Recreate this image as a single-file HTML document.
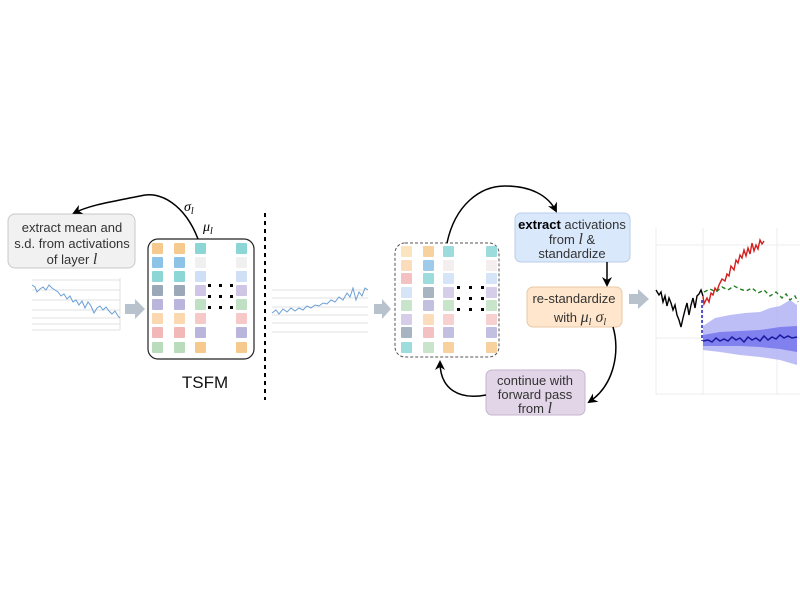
<!DOCTYPE html>
<html><head><meta charset="utf-8"><style>
html,body{margin:0;padding:0;background:#fff;}
svg{display:block;font-family:"Liberation Sans",sans-serif;}
</style></head><body>
<svg width="800" height="600" viewBox="0 0 800 600" xmlns="http://www.w3.org/2000/svg">
<defs>
<marker id="ah" markerWidth="10" markerHeight="10" refX="8" refY="5" orient="auto" markerUnits="userSpaceOnUse"><path d="M0,0 L10,5 L0,10 L3,5 z" fill="#000"/></marker>
</defs>
<rect width="800" height="600" fill="#fff"/>

<rect x="8" y="214" width="127" height="54" rx="7" fill="#f1f1f1" stroke="#c8c8c8"/>
<text x="72" y="232" font-size="13" text-anchor="middle" fill="#333">extract mean and</text>
<text x="72" y="248" font-size="13" text-anchor="middle" fill="#333">s.d. from activations</text>
<text x="72" y="264" font-size="13" text-anchor="middle" fill="#333">of layer <tspan font-family="Liberation Serif" font-style="italic" font-size="16">l</tspan></text>

<g stroke="#e2e2e2" stroke-width="1">
<line x1="32" y1="280" x2="120" y2="280"/><line x1="32" y1="290" x2="120" y2="290"/><line x1="32" y1="300" x2="120" y2="300"/><line x1="32" y1="310" x2="120" y2="310"/><line x1="32" y1="318" x2="120" y2="318"/><line x1="32" y1="324" x2="120" y2="324"/><line x1="32" y1="330" x2="120" y2="330"/>
<line x1="120" y1="278" x2="120" y2="330"/>
</g>
<polyline fill="none" stroke="#6b9fd6" stroke-width="1" points="32,285 35,287 37,292 40,289 43,287 46,290 49,285 52,288 55,290 58,292 61,296 64,294 67,299 70,296 73,302 76,300 79,305 82,301 85,308 88,302 91,306 94,313 97,308 100,306 103,310 106,307 109,311 112,314 115,311 118,316 120,318"/>
<polygon points="125,304 135,304 135,299 145,309 135,319 135,314 125,314" fill="#b8c2cc"/>

<rect x="148" y="239" width="106" height="120" rx="10" fill="#fff" stroke="#222" stroke-width="1.2"/>
<g>
<rect x="152" y="243" width="11" height="11" rx="1" fill="#f6c98e"/>
<rect x="152" y="257" width="11" height="11" rx="1" fill="#8cc3e6"/>
<rect x="152" y="271" width="11" height="11" rx="1" fill="#8dd6d6"/>
<rect x="152" y="285" width="11" height="11" rx="1" fill="#9aa8b8"/>
<rect x="152" y="299" width="11" height="11" rx="1" fill="#b9b5dc"/>
<rect x="152" y="313" width="11" height="11" rx="1" fill="#fbd8b0"/>
<rect x="152" y="327" width="11" height="11" rx="1" fill="#f2b7b7"/>
<rect x="152" y="342" width="11" height="11" rx="1" fill="#b8dcbc"/>
<rect x="174" y="243" width="11" height="11" rx="1" fill="#f6c98e"/>
<rect x="174" y="257" width="11" height="11" rx="1" fill="#8cc3e6"/>
<rect x="174" y="271" width="11" height="11" rx="1" fill="#8dd6d6"/>
<rect x="174" y="285" width="11" height="11" rx="1" fill="#9aa8b8"/>
<rect x="174" y="299" width="11" height="11" rx="1" fill="#b9b5dc"/>
<rect x="174" y="313" width="11" height="11" rx="1" fill="#fbd8b0"/>
<rect x="174" y="327" width="11" height="11" rx="1" fill="#f2b7b7"/>
<rect x="174" y="342" width="11" height="11" rx="1" fill="#b8dcbc"/>
<rect x="195" y="243" width="11" height="11" rx="1" fill="#8dd6d6"/>
<rect x="195" y="257" width="11" height="11" rx="1" fill="#f0f0f0"/>
<rect x="195" y="271" width="11" height="11" rx="1" fill="#cfe0f6"/>
<rect x="195" y="285" width="11" height="11" rx="1" fill="#cfc5e4"/>
<rect x="195" y="299" width="11" height="11" rx="1" fill="#bfe0c2"/>
<rect x="195" y="313" width="11" height="11" rx="1" fill="#f6c8c8"/>
<rect x="195" y="327" width="11" height="11" rx="1" fill="#b9b5dc"/>
<rect x="195" y="342" width="11" height="11" rx="1" fill="#f6c98e"/>
<rect x="236" y="243" width="11" height="11" rx="1" fill="#8dd6d6"/>
<rect x="236" y="257" width="11" height="11" rx="1" fill="#f0f0f0"/>
<rect x="236" y="271" width="11" height="11" rx="1" fill="#cfe0f6"/>
<rect x="236" y="285" width="11" height="11" rx="1" fill="#cfc5e4"/>
<rect x="236" y="299" width="11" height="11" rx="1" fill="#bfe0c2"/>
<rect x="236" y="313" width="11" height="11" rx="1" fill="#f6c8c8"/>
<rect x="236" y="327" width="11" height="11" rx="1" fill="#b9b5dc"/>
<rect x="236" y="342" width="11" height="11" rx="1" fill="#f6c98e"/>
</g>
<g fill="#000">
<rect x="208" y="284" width="3" height="3"/><rect x="219" y="284" width="3" height="3"/><rect x="230" y="284" width="3" height="3"/>
<rect x="208" y="295" width="3" height="3"/><rect x="219" y="295" width="3" height="3"/><rect x="230" y="295" width="3" height="3"/>
<rect x="208" y="306" width="3" height="3"/><rect x="219" y="306" width="3" height="3"/><rect x="230" y="306" width="3" height="3"/>
</g>
<text x="205" y="388" font-size="17" text-anchor="middle" fill="#111">TSFM</text>
<path d="M198,239 C185,205 160,190 140,196 C110,202 90,205 74,213" fill="none" stroke="#000" stroke-width="1.5" marker-end="url(#ah)"/>
<text x="184" y="211" font-size="14" font-family="Liberation Serif" font-style="italic">σ<tspan font-size="10" dy="3">l</tspan></text>
<text x="203" y="231" font-size="14" font-family="Liberation Serif" font-style="italic">μ<tspan font-size="10" dy="3">l</tspan></text>

<line x1="265" y1="213" x2="265" y2="400" stroke="#000" stroke-width="2" stroke-dasharray="4,4"/>

<g stroke="#e2e2e2"><line x1="272" y1="290" x2="368" y2="290"/><line x1="272" y1="298" x2="368" y2="298"/><line x1="272" y1="307" x2="368" y2="307"/><line x1="272" y1="315" x2="368" y2="315"/><line x1="272" y1="323" x2="368" y2="323"/><line x1="272" y1="332" x2="368" y2="332"/></g>
<polyline fill="none" stroke="#6b9fd6" stroke-width="1" points="272,313 276,310 279,314 283,309 287,312 291,308 295,311 299,308 303,310 307,306 311,308 315,305 319,306 323,303 327,304 331,300 335,302 339,297 343,300 347,293 350,297 353,288 356,300 359,292 362,296 365,288 368,290"/>
<polygon points="374,304 382,304 382,299 391,309 382,319 382,314 374,314" fill="#b8c2cc"/>

<rect x="395" y="243" width="104" height="114" rx="10" fill="#fff" stroke="#555" stroke-dasharray="3,2"/>
<g opacity="0.85">
<rect x="401" y="246" width="11" height="11" rx="1" fill="#fbe1b4"/>
<rect x="401" y="260" width="11" height="11" rx="1" fill="#fbd8b0"/>
<rect x="401" y="273" width="11" height="11" rx="1" fill="#f2b7b7"/>
<rect x="401" y="287" width="11" height="11" rx="1" fill="#cfe0f6"/>
<rect x="401" y="300" width="11" height="11" rx="1" fill="#bfe0c2"/>
<rect x="401" y="314" width="11" height="11" rx="1" fill="#cfc5e4"/>
<rect x="401" y="327" width="11" height="11" rx="1" fill="#9aa8b8"/>
<rect x="401" y="342" width="11" height="11" rx="1" fill="#8dd6d6"/>
<rect x="423" y="246" width="11" height="11" rx="1" fill="#f6c98e"/>
<rect x="423" y="260" width="11" height="11" rx="1" fill="#8cc3e6"/>
<rect x="423" y="273" width="11" height="11" rx="1" fill="#8dd6d6"/>
<rect x="423" y="287" width="11" height="11" rx="1" fill="#9aa8b8"/>
<rect x="423" y="300" width="11" height="11" rx="1" fill="#b9b5dc"/>
<rect x="423" y="314" width="11" height="11" rx="1" fill="#fbd8b0"/>
<rect x="423" y="327" width="11" height="11" rx="1" fill="#f2b7b7"/>
<rect x="423" y="342" width="11" height="11" rx="1" fill="#bfe0c2"/>
<rect x="443" y="246" width="11" height="11" rx="1" fill="#8dd6d6"/>
<rect x="443" y="260" width="11" height="11" rx="1" fill="#f3ecec"/>
<rect x="443" y="273" width="11" height="11" rx="1" fill="#cfe0f6"/>
<rect x="443" y="287" width="11" height="11" rx="1" fill="#cfc5e4"/>
<rect x="443" y="300" width="11" height="11" rx="1" fill="#bfe0c2"/>
<rect x="443" y="314" width="11" height="11" rx="1" fill="#f6c8c8"/>
<rect x="443" y="327" width="11" height="11" rx="1" fill="#b9b5dc"/>
<rect x="443" y="342" width="11" height="11" rx="1" fill="#f6c98e"/>
<rect x="486" y="246" width="11" height="11" rx="1" fill="#8dd6d6"/>
<rect x="486" y="260" width="11" height="11" rx="1" fill="#f3ecec"/>
<rect x="486" y="273" width="11" height="11" rx="1" fill="#cfe0f6"/>
<rect x="486" y="287" width="11" height="11" rx="1" fill="#cfc5e4"/>
<rect x="486" y="300" width="11" height="11" rx="1" fill="#bfe0c2"/>
<rect x="486" y="314" width="11" height="11" rx="1" fill="#f6c8c8"/>
<rect x="486" y="327" width="11" height="11" rx="1" fill="#b9b5dc"/>
<rect x="486" y="342" width="11" height="11" rx="1" fill="#f6c98e"/>
</g>
<g fill="#000">
<rect x="457" y="286" width="3" height="3"/><rect x="469" y="286" width="3" height="3"/><rect x="481" y="286" width="3" height="3"/>
<rect x="457" y="297" width="3" height="3"/><rect x="469" y="297" width="3" height="3"/><rect x="481" y="297" width="3" height="3"/>
<rect x="457" y="308" width="3" height="3"/><rect x="469" y="308" width="3" height="3"/><rect x="481" y="308" width="3" height="3"/>
</g>

<rect x="515" y="213" width="115" height="49" rx="6" fill="#dae8fc" stroke="#b8cde8"/>
<text x="572" y="229" font-size="13" text-anchor="middle" fill="#333"><tspan fill="#000" font-weight="bold">extract</tspan> activations</text>
<text x="572" y="244" font-size="13" text-anchor="middle" fill="#333">from <tspan font-family="Liberation Serif" font-style="italic" font-size="16">l</tspan>  &amp;</text>
<text x="572" y="258" font-size="13" text-anchor="middle" fill="#333">standardize</text>
<line x1="607" y1="262" x2="607" y2="285" stroke="#000" stroke-width="1.5" marker-end="url(#ah)"/>
<rect x="527" y="287" width="95" height="40" rx="6" fill="#ffe6cc" stroke="#e8c8a4"/>
<text x="574" y="303" font-size="13" text-anchor="middle" fill="#333">re-standardize</text>
<text x="580" y="322" font-size="13" text-anchor="middle" fill="#333">with <tspan font-family="Liberation Serif" font-style="italic" font-size="16">μ<tspan font-size="10" dy="3">l</tspan><tspan dy="-3"> σ</tspan><tspan font-size="10" dy="3">l</tspan></tspan></text>
<rect x="486" y="370" width="99" height="45" rx="6" fill="#e1d5e7" stroke="#c6b5cf"/>
<text x="535" y="385" font-size="13" text-anchor="middle" fill="#333">continue with</text>
<text x="535" y="399" font-size="13" text-anchor="middle" fill="#333">forward pass</text>
<text x="535" y="413" font-size="13" text-anchor="middle" fill="#333">from <tspan font-family="Liberation Serif" font-style="italic" font-size="16">l</tspan></text>

<path d="M447,243 C455,205 480,186 505,186 C530,186 548,195 556,211" fill="none" stroke="#000" stroke-width="1.5" marker-end="url(#ah)"/>
<path d="M613,327 C620,350 615,385 589,402" fill="none" stroke="#000" stroke-width="1.5" marker-end="url(#ah)"/>
<path d="M486,395 C460,400 440,390 440,362" fill="none" stroke="#000" stroke-width="1.5" marker-end="url(#ah)"/>

<polygon points="629,294 638,294 638,289 649,299 638,309 638,304 629,304" fill="#b8c2cc"/>

<rect x="656" y="228" width="144" height="167" fill="#fff"/>
<g stroke="#ececec"><line x1="656" y1="228" x2="656" y2="395"/><line x1="703" y1="228" x2="703" y2="395"/><line x1="777" y1="228" x2="777" y2="395"/><line x1="656" y1="245" x2="800" y2="245"/><line x1="656" y1="338" x2="800" y2="338"/><line x1="656" y1="394" x2="800" y2="394"/></g>
<path d="M703,326 L715,318 L730,315 L745,313 L760,312 L770,308 L780,306 L790,300 L797,305 L797,365 L780,360 L760,357 L740,355 L720,352 L703,350 Z" fill="#b3b3f5" opacity="0.85"/>
<path d="M703,335 L720,332 L740,331 L760,330 L780,327 L797,326 L797,352 L780,349 L760,347 L740,346 L720,346 L703,346 Z" fill="#7070ee" opacity="0.8"/>
<polyline fill="none" stroke="#1a1aa0" stroke-width="1.5" points="703,341 708,340 712,342 716,338 720,341 724,339 728,341 732,337 736,340 740,338 744,342 748,337 752,340 756,338 760,341 764,336 768,340 772,337 776,339 780,335 784,338 788,336 792,338 797,337"/>
<line x1="702" y1="300" x2="702" y2="341" stroke="#2020c0" stroke-width="1.5" stroke-dasharray="3,2"/>
<polyline fill="none" stroke="#000" stroke-width="1.4" points="656,290 659,295 661,292 663,302 665,296 667,306 669,298 671,303 673,310 675,305 677,315 679,320 681,327 683,318 685,310 687,303 689,315 691,305 693,298 695,308 697,296 699,294 701,290 703,296"/>
<polyline fill="none" stroke="#d42020" stroke-width="1.4" points="703,296 704,304 707,298 709,302 711,293 713,295 715,288 717,291 719,285 722,279 725,281 727,274 729,276 731,266 734,270 736,260 738,263 740,255 742,258 744,250 746,256 748,248 750,254 752,243 754,251 756,245 758,249 760,240 762,244 764,241"/>
<polyline fill="none" stroke="#208020" stroke-width="1.4" stroke-dasharray="4,3" points="704,292 710,289 716,292 722,287 728,290 734,286 740,289 746,291 752,288 758,293 764,290 770,296 776,292 782,298 786,294 790,300 795,296 798,302"/>
</svg>
</body></html>
